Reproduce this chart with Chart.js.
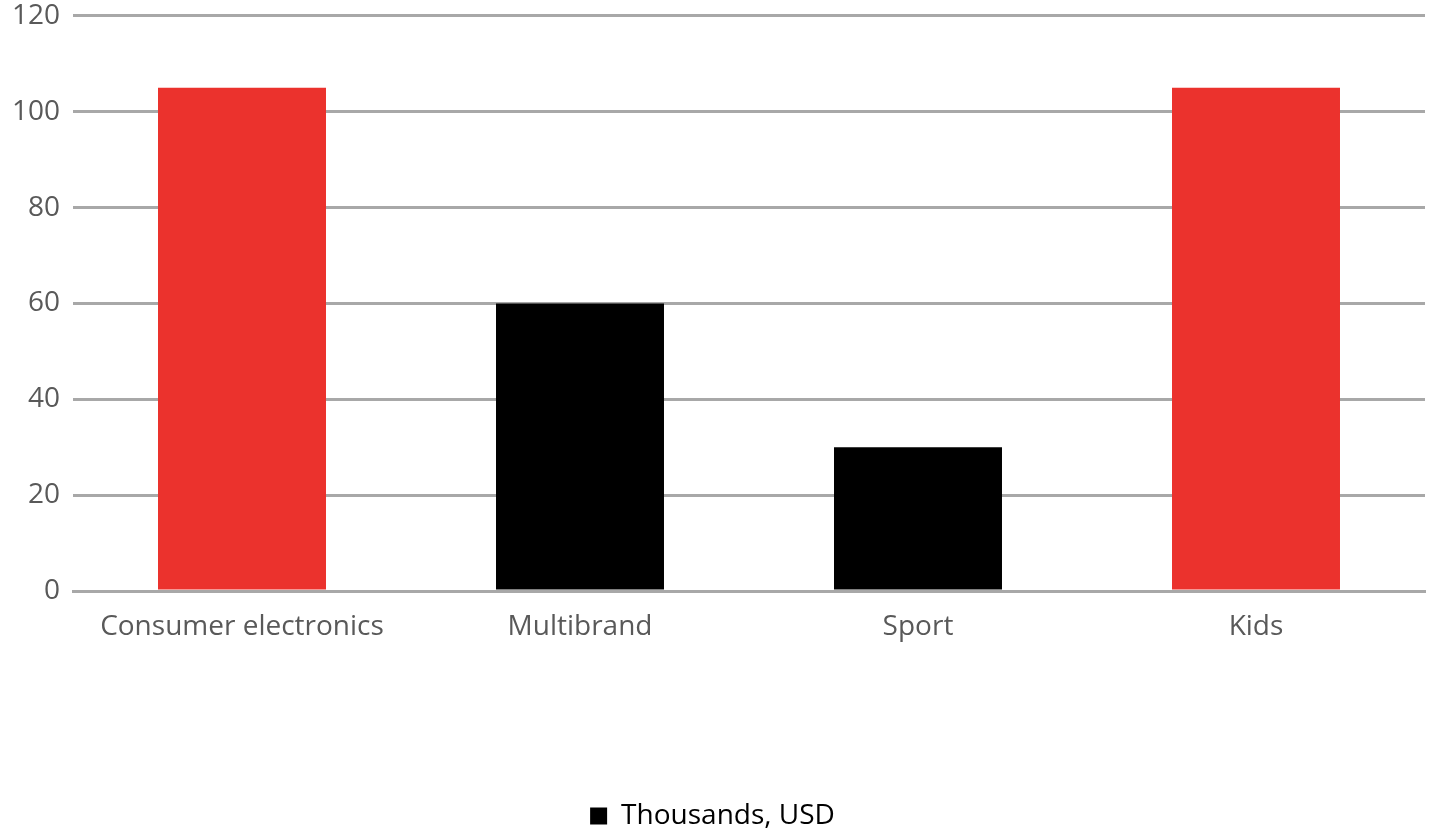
<!DOCTYPE html>
<html>
<head>
<meta charset="utf-8">
<script src="https://cdn.jsdelivr.net/npm/chart.js@4.4.0/dist/chart.umd.min.js"></script>
<style>
html,body{margin:0;padding:0;background:#fff;}
#wrap{width:1431px;height:829px;position:relative;}
</style>
</head>
<body>
<div id="wrap"><canvas id="c"></canvas></div>
<script>
const categories = ["Consumer electronics", "Multibrand", "Sport", "Kids"];
const values = [105, 60, 30, 105];
const barColors = ["#EB322D", "#000000", "#000000", "#EB322D"];
const seriesName = "Thousands, USD";
const yTicks = [0, 20, 40, 60, 80, 100, 120];

const FONT = "'Open Sans', 'Noto Sans', sans-serif";
const TEXT = "#595959";
const GRID = "#A8A8A8";

new Chart(document.getElementById('c'), {
  type: 'bar',
  data: {
    labels: categories,
    datasets: [{
      label: seriesName,
      data: values,
      backgroundColor: barColors,
      borderWidth: 0,
      barPercentage: 0.497,
      categoryPercentage: 1.0
    }]
  },
  options: {
    responsive: true,
    maintainAspectRatio: false,
    animation: false,
    devicePixelRatio: 1,
    layout: { padding: { top: 0, right: 6, left: 0, bottom: -11 } },
    plugins: {
      tooltip: { enabled: false },
      legend: {
        position: 'bottom',
        labels: {
          color: TEXT,
          font: { family: FONT, size: 28 },
          boxWidth: 17,
          boxHeight: 17,
          padding: 0,
          generateLabels: (chart) => [{
            text: seriesName,
            fillStyle: '#000000',
            strokeStyle: '#000000',
            lineWidth: 0,
            hidden: false,
            datasetIndex: 0
          }]
        }
      }
    },
    scales: {
      x: {
        grid: { display: false, drawTicks: false },
        border: { display: true, color: GRID, width: 3 },
        ticks: { color: TEXT, font: { family: FONT, size: 28 }, padding: 19, maxRotation: 0 },
        afterFit: (s) => { s.height = 211; }
      },
      y: {
        min: 0, max: 120,
        afterBuildTicks: (s) => { s.ticks = yTicks.map(v => ({ value: v })); },
        grid: { color: GRID, lineWidth: 3, drawTicks: false },
        border: { display: false },
        ticks: { color: TEXT, font: { family: FONT, size: 28, lineHeight: 0.2 }, padding: 13 },
        afterFit: (s) => { s.width = 73; }
      }
    }
  }
});
</script>
</body>
</html>
